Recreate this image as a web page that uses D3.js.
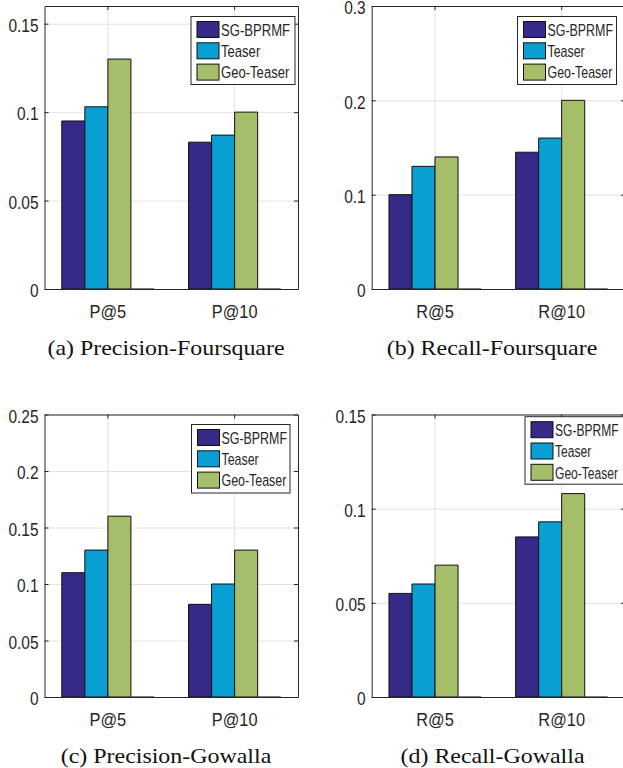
<!DOCTYPE html>
<html>
<head>
<meta charset="utf-8">
<script src="https://cdn.jsdelivr.net/npm/d3@7"></script>
<style>
  body { margin: 0; background: #fff; }
  svg text { font-family: "Liberation Sans", Arial, sans-serif; fill: #262626; }
</style>
</head>
<body>
<div id="chart"></div>
<script>
// legend series and bar colours (parula-like)
const seriesNames = ["SG-BPRMF", "Teaser", "Geo-Teaser"];
const seriesColors = ["#352a87", "#0a9fd3", "#a5be6a"];

const precisionCats = ["P@5", "P@10"];
const recallCats = ["R@5", "R@10"];

// one row per series, the last row is the empty 4th column of the matlab plot
const fsqPrecision = [[0.095, 0.083], [0.103, 0.087], [0.130, 0.100], [0, 0]];
const fsqRecall = [[0.100, 0.145], [0.130, 0.160], [0.140, 0.200], [0, 0]];
const gwPrecision = [[0.110, 0.082], [0.130, 0.100], [0.160, 0.130], [0, 0]];
const gwRecall = [[0.055, 0.085], [0.060, 0.093], [0.070, 0.108], [0, 0]];

const fsqPrecisionTicks = [0, 0.05, 0.1, 0.15];
const fsqRecallTicks = [0, 0.1, 0.2, 0.3];
const gwPrecisionTicks = [0, 0.05, 0.1, 0.15, 0.2, 0.25];
const gwRecallTicks = [0, 0.05, 0.1, 0.15];

const captions = ["(a) Precision-Foursquare", "(b) Recall-Foursquare",
  "(c) Precision-Gowalla", "(d) Recall-Gowalla"];

const panels = [
  { cats: precisionCats, values: fsqPrecision, yMax: 0.16, ticks: fsqPrecisionTicks, caption: captions[0],
    x0: 44.5, x1: 298, y0: 289, y1: 6, legend: [191, 16.5, 104, 68], ls: 0.77, capX: 166, capY: 355 },
  { cats: recallCats, values: fsqRecall, yMax: 0.3, ticks: fsqRecallTicks, caption: captions[1],
    x0: 371.7, x1: 625, y0: 289, y1: 6, legend: [517.5, 16.5, 99, 68], ls: 0.73, capX: 492, capY: 355 },
  { cats: precisionCats, values: gwPrecision, yMax: 0.25, ticks: gwPrecisionTicks, caption: captions[2],
    x0: 44.5, x1: 298, y0: 697, y1: 414.5, legend: [191.5, 424.5, 98.5, 68.5], ls: 0.73, capX: 166, capY: 763 },
  { cats: recallCats, values: gwRecall, yMax: 0.15, ticks: gwRecallTicks, caption: captions[3],
    x0: 371.7, x1: 625, y0: 697, y1: 414.5, legend: [525, 416.7, 100, 67.5], ls: 0.71, capX: 492.5, capY: 763 }
];

const axisColor = "#262626";
const gridColor = "#e2e2e2";
const tickScale = 0.86;   // matlab helvetica looks narrow

const svg = d3.select("#chart")
  .append("svg")
  .attr("width", 623)
  .attr("height", 768);

function drawPanel(p) {
  const x = d3.scaleBand().domain(p.cats).range([p.x0, p.x1]);
  const bw = x.bandwidth();
  const gw = 4 / 5.5; // matlab group width for 4 bars
  const xs = d3.scaleBand()
    .domain(d3.range(p.values.length))
    .range([bw * (1 - gw) / 2, bw * (1 + gw) / 2]);
  const y = d3.scaleLinear().domain([0, p.yMax]).range([p.y0, p.y1]);

  const g = svg.append("g");

  // grid
  g.append("g")
    .attr("transform", `translate(0,${p.y0})`)
    .call(d3.axisBottom(x).tickSize(-(p.y0 - p.y1)).tickFormat(""))
    .call(s => s.select(".domain").remove())
    .selectAll("line").attr("stroke", gridColor);
  g.append("g")
    .attr("transform", `translate(${p.x0},0)`)
    .call(d3.axisLeft(y).tickValues(p.ticks).tickSize(-(p.x1 - p.x0)).tickFormat(""))
    .call(s => s.select(".domain").remove())
    .selectAll("line").attr("stroke", gridColor);

  // bars
  const bars = [];
  p.values.forEach((row, i) => row.forEach((v, j) => bars.push({ s: i, cat: p.cats[j], v: v })));
  g.append("g")
    .selectAll("path")
    .data(bars)
    .join("path")
    .attr("d", d => {
      const bx = x(d.cat) + xs(d.s);
      return `M${bx},${y(0)}V${y(d.v)}H${bx + xs.bandwidth()}V${y(0)}Z`;
    })
    .attr("fill", d => d.s < seriesColors.length ? seriesColors[d.s] : "none")
    .attr("stroke", d => d.s < seriesColors.length ? "#111" : "#555")
    .attr("stroke-width", d => d.s < seriesColors.length ? 1 : 1.5);

  // box + ticks
  const left = g.append("g")
    .attr("transform", `translate(${p.x0},0)`)
    .call(d3.axisLeft(y).tickValues(p.ticks).tickSize(-4).tickSizeOuter(0).tickPadding(6 / tickScale)
      .tickFormat(d => String(d)));
  left.selectAll("text")
    .attr("font-size", 18)
    .attr("font-family", null)
    .attr("y", 2)
    .attr("transform", `scale(${tickScale},1)`);

  g.append("g")
    .attr("transform", `translate(${p.x1},0)`)
    .call(d3.axisRight(y).tickValues(p.ticks).tickSize(-4).tickSizeOuter(0).tickFormat(""));

  const bottom = g.append("g")
    .attr("transform", `translate(0,${p.y0})`)
    .call(d3.axisBottom(x).tickSize(-4).tickSizeOuter(0));
  bottom.selectAll("text")
    .attr("font-size", 18)
    .attr("font-family", null)
    .attr("y", 29)
    .attr("dy", null)
    .attr("transform", `scale(${tickScale + 0.05},1)`);

  g.append("g")
    .attr("transform", `translate(0,${p.y1})`)
    .call(d3.axisTop(x).tickSize(-4).tickSizeOuter(0).tickFormat(""));

  g.selectAll(".domain, .tick line").filter(function () {
    return d3.select(this).attr("stroke") !== gridColor;
  }).attr("stroke", axisColor);

  // legend
  const [lx, ly, lw, lh] = p.legend;
  const lg = g.append("g");
  lg.append("rect")
    .attr("x", lx).attr("y", ly).attr("width", lw).attr("height", lh)
    .attr("fill", "#fff").attr("stroke", axisColor).attr("stroke-width", 1);
  seriesNames.forEach((name, i) => {
    const top = ly + 5 + i * 21.3;
    lg.append("rect")
      .attr("x", lx + 6).attr("y", top).attr("width", 22).attr("height", 16)
      .attr("fill", seriesColors[i]).attr("stroke", "#111");
    lg.append("text")
      .attr("transform", `translate(${lx + 30},${top + 14.3}) scale(${p.ls},1)`)
      .attr("font-size", 17)
      .text(name);
  });

  // caption
  g.append("text")
    .attr("transform", `translate(${p.capX},${p.capY}) scale(1.14,1)`)
    .attr("text-anchor", "middle")
    .style("font-family", "'Liberation Serif', 'Times New Roman', serif")
    .style("fill", "#111")
    .attr("font-size", 21)
    .text(p.caption);
}

panels.forEach(drawPanel);
</script>
</body>
</html>
